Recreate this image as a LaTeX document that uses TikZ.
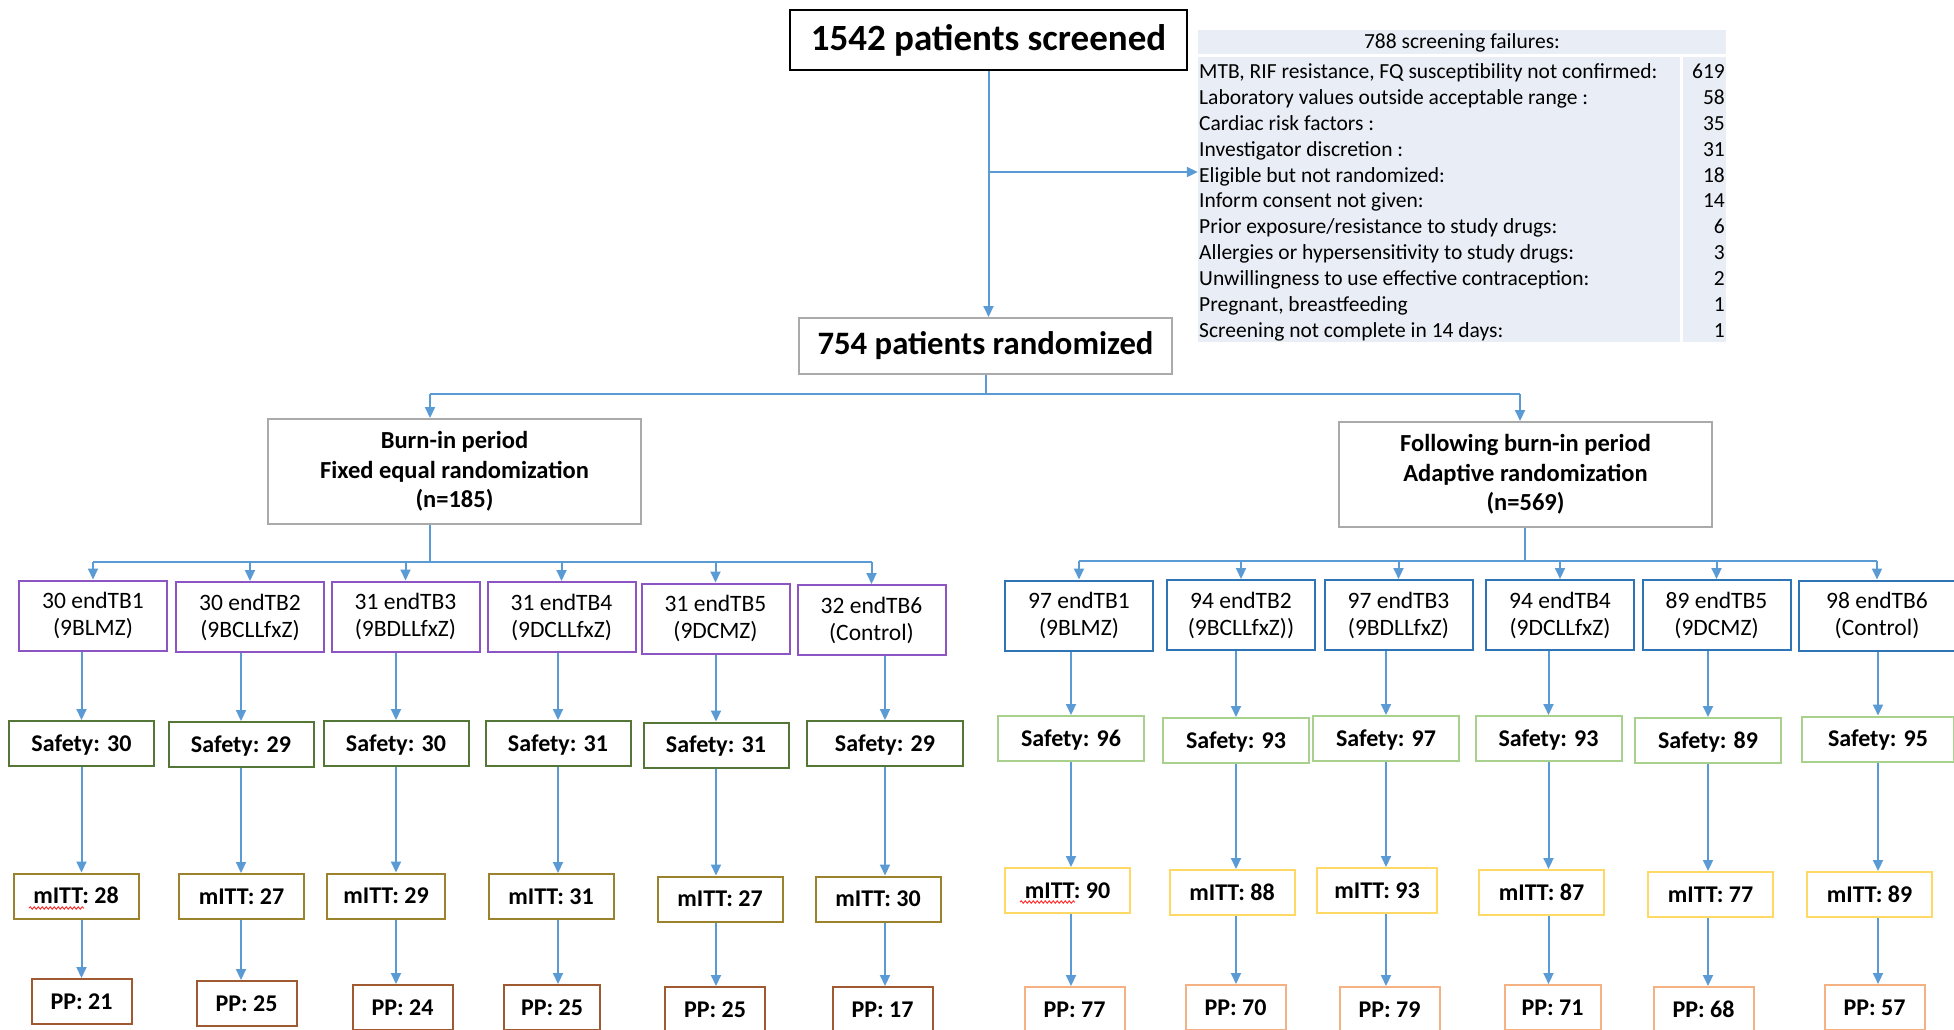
\documentclass[tikz,border=0pt]{standalone}
\usepackage{fontspec}
\setmainfont{Carlito}
\usetikzlibrary{arrows.meta,decorations.pathmorphing}
\definecolor{conn}{RGB}{91,155,213}
\definecolor{grayb}{RGB}{170,170,170}
\definecolor{tablebg}{RGB}{233,237,245}
\definecolor{purp}{RGB}{140,85,195}
\definecolor{dkgreen}{RGB}{84,118,55}
\definecolor{olive}{RGB}{155,130,45}
\definecolor{brownb}{RGB}{160,90,50}
\definecolor{blueb}{RGB}{46,117,182}
\definecolor{ltgreen}{RGB}{169,209,142}
\definecolor{ltyel}{RGB}{255,217,102}
\definecolor{ltorg}{RGB}{244,177,131}

\begin{document}
\begin{tikzpicture}[x=1pt,y=-1pt,
  arr/.style={draw=conn,line width=2pt,-{Triangle[width=10pt,length=11pt]}},
  ln/.style={draw=conn,line width=2pt},
  box/.style={draw,line width=2pt,fill=white,inner sep=0pt,align=center},
  big/.style={box,font=\bfseries\fontsize{24.5}{29.5}\selectfont},
  arm/.style={box,minimum width=148pt,minimum height=70pt,font=\fontsize{23.5}{27}\selectfont},
  cnt/.style={box,minimum height=45pt,font=\bfseries\fontsize{24}{24}\selectfont,text height=15.5pt,text depth=0pt},
  safeL/.style={cnt,draw=dkgreen,minimum width=145pt},
  mittL/.style={cnt,draw=olive,minimum width=125pt},
  ppL/.style={cnt,draw=brownb,minimum width=100pt},
  safeR/.style={cnt,draw=ltgreen,minimum width=146pt},
  mittR/.style={cnt,draw=ltyel,minimum width=125pt},
  ppR/.style={cnt,draw=ltorg,minimum width=100pt},
  txt/.style={inner sep=0pt,font=\fontsize{21.5}{21.5}\selectfont,text height=13.6pt,text depth=0pt},
  squig/.style={draw=red!80,line width=1pt,decorate,decoration={snake,amplitude=1.2pt,segment length=4pt}}]
 \useasboundingbox (0,0) rectangle (1954,1029);
 \clip (0,0) rectangle (1954,1029);

 % screening
 \node[box,line width=2.5pt,minimum width=397pt,minimum height=60pt,font=\bfseries\fontsize{37}{37}\selectfont] (scr) at (988.5,40) {1542 patients screened};
 \node[box,draw=grayb,minimum width=373pt,minimum height=56pt,font=\bfseries\fontsize{32.7}{32.7}\selectfont] (rand) at (985.5,346) {754 patients randomized};

 % failures table
 \node[fill=tablebg,minimum width=528pt,minimum height=312pt,inner sep=0pt] (fail) at (1462,186) {};
 \draw[white,line width=3pt] (1198,55) -- (1726,55);
 \draw[white,line width=3pt] (1681,55) -- (1681,342);
 \node[txt] (fh) at (1462,42) {788 screening failures:};
 \node[txt,anchor=west] (f1) at (1199,72) {MTB, RIF resistance, FQ susceptibility not confirmed:};
 \node[txt,anchor=west] (f2) at (1199,98) {Laboratory values outside acceptable range :};
 \node[txt,anchor=west] (f3) at (1199,124) {Cardiac risk factors :};
 \node[txt,anchor=west] (f4) at (1199,150) {Investigator discretion :};
 \node[txt,anchor=west] (f5) at (1199,176) {Eligible but not randomized:};
 \node[txt,anchor=west] (f6) at (1199,201) {Inform consent not given:};
 \node[txt,anchor=west] (f7) at (1199,227) {Prior exposure/resistance to study drugs:};
 \node[txt,anchor=west] (f8) at (1199,253) {Allergies or hypersensitivity to study drugs:};
 \node[txt,anchor=west] (f9) at (1199,279) {Unwillingness to use effective contraception:};
 \node[txt,anchor=west] (f10) at (1199,305) {Pregnant, breastfeeding};
 \node[txt,anchor=west] (f11) at (1199,331) {Screening not complete in 14 days:};
 \node[txt,anchor=east] (n1) at (1725,72) {619};
 \node[txt,anchor=east] (n2) at (1725,98) {58};
 \node[txt,anchor=east] (n3) at (1725,124) {35};
 \node[txt,anchor=east] (n4) at (1725,150) {31};
 \node[txt,anchor=east] (n5) at (1725,176) {18};
 \node[txt,anchor=east] (n6) at (1725,201) {14};
 \node[txt,anchor=east] (n7) at (1725,227) {6};
 \node[txt,anchor=east] (n8) at (1725,253) {3};
 \node[txt,anchor=east] (n9) at (1725,279) {2};
 \node[txt,anchor=east] (n10) at (1725,305) {1};
 \node[txt,anchor=east] (n11) at (1725,331) {1};

 % two periods
 \node[big,draw=grayb,minimum width=373pt,minimum height=105pt] (burn) at (454.5,471.5) {Burn-in period\\Fixed equal randomization\\(n=185)};
 \node[big,draw=grayb,minimum width=373pt,minimum height=105pt] (follow) at (1525.5,474.5) {Following burn-in period\\Adaptive randomization\\(n=569)};

 % burn-in arms
 \node[arm,draw=purp] (a1) at (93,615.5) {30 endTB1\\(9BLMZ)};
 \node[arm,draw=purp] (a2) at (250,617) {30 endTB2\\(9BCLLfxZ)};
 \node[arm,draw=purp] (a3) at (405.5,616.5) {31 endTB3\\(9BDLLfxZ)};
 \node[arm,draw=purp] (a4) at (561.5,617) {31 endTB4\\(9DCLLfxZ)};
 \node[arm,draw=purp] (a5) at (715.5,618.5) {31 endTB5\\(9DCMZ)};
 \node[arm,draw=purp] (a6) at (871.5,620) {32 endTB6\\(Control)};
 \node[safeL] (s1) at (81.5,743.5) {Safety: 30};
 \node[safeL] (s2) at (241,744.5) {Safety: 29};
 \node[safeL] (s3) at (396,743.5) {Safety: 30};
 \node[safeL] (s4) at (558,743.5) {Safety: 31};
 \node[safeL] (s5) at (716,745) {Safety: 31};
 \node[safeL,minimum width=156pt] (s6) at (885,743.5) {Safety: 29};
 \node[mittL] (m1) at (76,896) {mITT: 28};
 \node[mittL] (m2) at (241.5,896.5) {mITT: 27};
 \node[mittL,minimum width=118pt] (m3) at (386,896) {mITT: 29};
 \node[mittL] (m4) at (551,896.5) {mITT: 31};
 \node[mittL] (m5) at (720,899) {mITT: 27};
 \node[mittL] (m6) at (878,899) {mITT: 30};
 \node[ppL] (p1) at (81.5,1001.5) {PP: 21};
 \node[ppL] (p2) at (246.5,1003.5) {PP: 25};
 \node[ppL] (p3) at (402.5,1007.5) {PP: 24};
 \node[ppL,minimum width=96pt] (p4) at (552,1007.5) {PP: 25};
 \node[ppL] (p5) at (715,1009.5) {PP: 25};
 \node[ppL] (p6) at (882.5,1009.5) {PP: 17};
 \draw[squig] (29,908) -- (84,908);

 % adaptive arms
 \node[arm,draw=blueb] (b1) at (1079,615.5) {97 endTB1\\(9BLMZ)};
 \node[arm,draw=blueb] (b2) at (1241,615) {94 endTB2\\(9BCLLfxZ))};
 \node[arm,draw=blueb] (b3) at (1398.5,615) {97 endTB3\\(9BDLLfxZ)};
 \node[arm,draw=blueb] (b4) at (1560,615) {94 endTB4\\(9DCLLfxZ)};
 \node[arm,draw=blueb] (b5) at (1716.5,615) {89 endTB5\\(9DCMZ)};
 \node[arm,draw=blueb,minimum width=156pt] (b6) at (1877,615.5) {98 endTB6\\(Control)};
 \node[safeR] (t1) at (1071,738.5) {Safety: 96};
 \node[safeR] (t2) at (1236,740.5) {Safety: 93};
 \node[safeR] (t3) at (1386,738.5) {Safety: 97};
 \node[safeR] (t4) at (1548.5,738.5) {Safety: 93};
 \node[safeR] (t5) at (1708,740.5) {Safety: 89};
 \node[safeR,minimum width=152pt] (t6) at (1878,739) {Safety: 95};
 \node[mittR] (q1) at (1067.5,890.5) {mITT: 90};
 \node[mittR] (q2) at (1232,892.5) {mITT: 88};
 \node[mittR,minimum width=120pt] (q3) at (1377,890.5) {mITT: 93};
 \node[mittR] (q4) at (1541.5,892.5) {mITT: 87};
 \node[mittR] (q5) at (1710.5,894.5) {mITT: 77};
 \node[mittR] (q6) at (1869.5,894.5) {mITT: 89};
 \node[ppR] (r1) at (1074.5,1009.5) {PP: 77};
 \node[ppR] (r2) at (1235.5,1007.5) {PP: 70};
 \node[ppR] (r3) at (1389.5,1009.5) {PP: 79};
 \node[ppR,minimum width=96pt] (r4) at (1552.5,1007.5) {PP: 71};
 \node[ppR] (r5) at (1703.5,1009.5) {PP: 68};
 \node[ppR] (r6) at (1874.5,1007.5) {PP: 57};
 \draw[squig] (1020,902) -- (1075,902);

 % top connectors
 \coordinate (sp) at (988.5,172);
 \coordinate (bl) at (430,394);
 \coordinate (br) at (1520,394);
 \coordinate (lb) at (430,562);
 \coordinate (rb) at (1525,561);
 \draw[arr] (scr.south) -- (scr.south |- rand.north);
 \draw[arr] (sp) -- (sp -| fail.west);
 \draw[ln] (rand.south) -- (rand.south |- bl);
 \draw[ln] (bl) -- (br);
 \draw[arr] (bl) -- (bl |- burn.north);
 \draw[arr] (br) -- (br |- follow.north);
 \draw[ln] (lb |- burn.south) -- (lb);
 \draw[ln] (a1.north |- lb) -- (a6.north |- lb);
 \draw[ln] (rb |- follow.south) -- (rb);
 \draw[ln] (b1.north |- rb) -- (b6.north |- rb);
 \draw[arr] (a1.north |- lb) -- (a1.north);
 \draw[arr] (a2.north |- lb) -- (a2.north);
 \draw[arr] (a3.north |- lb) -- (a3.north);
 \draw[arr] (a4.north |- lb) -- (a4.north);
 \draw[arr] (a5.north |- lb) -- (a5.north);
 \draw[arr] (a6.north |- lb) -- (a6.north);
 \draw[arr] (b1.north |- rb) -- (b1.north);
 \draw[arr] (b2.north |- rb) -- (b2.north);
 \draw[arr] (b3.north |- rb) -- (b3.north);
 \draw[arr] (b4.north |- rb) -- (b4.north);
 \draw[arr] (b5.north |- rb) -- (b5.north);
 \draw[arr] (b6.north |- rb) -- (b6.north);

 % columns
 \draw[arr] (a1.south -| s1) -- (s1.north); \draw[arr] (s1.south) -- (m1.north -| s1); \draw[arr] (m1.south -| s1) -- (p1.north -| s1);
 \draw[arr] (a2.south -| s2) -- (s2.north); \draw[arr] (s2.south) -- (m2.north -| s2); \draw[arr] (m2.south -| s2) -- (p2.north -| s2);
 \draw[arr] (a3.south -| s3) -- (s3.north); \draw[arr] (s3.south) -- (m3.north -| s3); \draw[arr] (m3.south -| s3) -- (p3.north -| s3);
 \draw[arr] (a4.south -| s4) -- (s4.north); \draw[arr] (s4.south) -- (m4.north -| s4); \draw[arr] (m4.south -| s4) -- (p4.north -| s4);
 \draw[arr] (a5.south -| s5) -- (s5.north); \draw[arr] (s5.south) -- (m5.north -| s5); \draw[arr] (m5.south -| s5) -- (p5.north -| s5);
 \draw[arr] (a6.south -| s6) -- (s6.north); \draw[arr] (s6.south) -- (m6.north -| s6); \draw[arr] (m6.south -| s6) -- (p6.north -| s6);
 \draw[arr] (b1.south -| t1) -- (t1.north); \draw[arr] (t1.south) -- (q1.north -| t1); \draw[arr] (q1.south -| t1) -- (r1.north -| t1);
 \draw[arr] (b2.south -| t2) -- (t2.north); \draw[arr] (t2.south) -- (q2.north -| t2); \draw[arr] (q2.south -| t2) -- (r2.north -| t2);
 \draw[arr] (b3.south -| t3) -- (t3.north); \draw[arr] (t3.south) -- (q3.north -| t3); \draw[arr] (q3.south -| t3) -- (r3.north -| t3);
 \draw[arr] (b4.south -| t4) -- (t4.north); \draw[arr] (t4.south) -- (q4.north -| t4); \draw[arr] (q4.south -| t4) -- (r4.north -| t4);
 \draw[arr] (b5.south -| t5) -- (t5.north); \draw[arr] (t5.south) -- (q5.north -| t5); \draw[arr] (q5.south -| t5) -- (r5.north -| t5);
 \draw[arr] (b6.south -| t6) -- (t6.north); \draw[arr] (t6.south) -- (q6.north -| t6); \draw[arr] (q6.south -| t6) -- (r6.north -| t6);
\end{tikzpicture}
\end{document}
